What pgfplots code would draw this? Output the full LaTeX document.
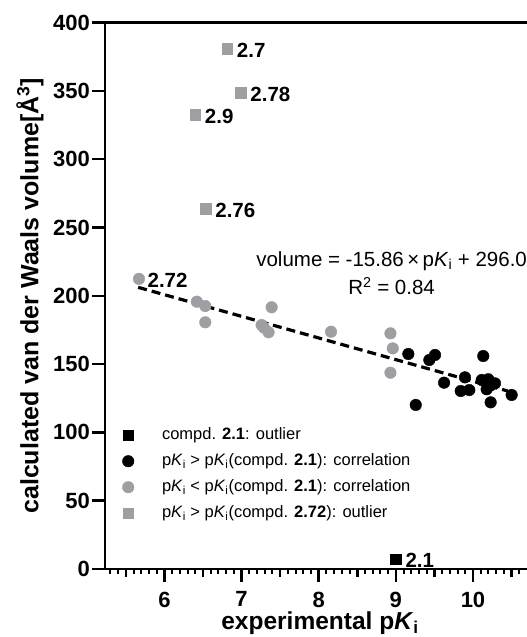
\documentclass[border=0pt]{standalone}
\usepackage{pgfplots}
\pgfplotsset{compat=1.18}
\usepackage{fontspec}
\setmainfont{Liberation Sans}
\definecolor{ptgray}{RGB}{158,158,163}
\newcommand{\pKi}{p\textit{K}\textsubscript{i}}

\begin{document}
\begin{tikzpicture}
\path[use as bounding box] (-105bp,-68bp) rectangle (422bp,569bp);
\begin{axis}[
  at={(0,0)}, anchor=south west,
  scale only axis, width=422bp, height=546.4bp,
  xmin=5.23, xmax=10.7, ymin=0, ymax=400,
  axis x line*=bottom, axis y line*=left,
  axis line style={line width=2.7bp, line cap=rect},
  xtick={6,...,10}, ytick={0,50,...,400},
  minor xtick={5.3,5.4,5.6,5.7,5.8,5.9,6.1,6.2,6.3,6.4,6.6,6.7,6.8,6.9,
    7.1,7.2,7.3,7.4,7.6,7.7,7.8,7.9,8.1,8.2,8.3,8.4,8.6,8.7,8.8,8.9,
    9.1,9.2,9.3,9.4,9.6,9.7,9.8,9.9,10.1,10.2,10.3,10.4,10.6},
  extra x ticks={5.5,6.5,7.5,8.5,9.5,10.5},
  extra x tick labels={},
  extra x tick style={major tick length=7.5bp},
  tick align=outside,
  major tick length=12.5bp,
  minor tick length=5bp,
  tick style={black, line width=2.5bp},
  minor tick style={line width=2bp},
  tick label style={font=\fontsize{22bp}{25bp}\selectfont\bfseries},
  /pgf/number format/assume math mode=true,
  yticklabel style={inner sep=0pt, xshift=-2.5bp},
  xticklabel style={inner sep=0pt, yshift=-10bp},
  xlabel={experimental \pKi},
  xlabel style={at={(axis description cs:0.5095,-0.1115)}, anchor=base,
    font=\fontsize{24.5bp}{29bp}\selectfont\bfseries},
  ylabel={calculated van der Waals volume[Å\textsuperscript{3}]},
  ylabel style={at={(axis description cs:-0.1576,0.5)}, anchor=base,
    font=\fontsize{25bp}{30bp}\selectfont\bfseries},
  legend style={at={(axis description cs:0.0408,0.2594)}, anchor=north west,
    draw=none, fill=none, inner sep=0pt, row sep=10.5bp,
    /tikz/every odd column/.append style={column sep=28bp},
    nodes={inner sep=0pt, text height=12bp, text depth=3.5bp,
      font=\fontsize{16.5bp}{19bp}\selectfont}},
  legend cell align=left,
  legend image code/.code={\draw[#1] plot coordinates {(0bp,0bp)};},
  clip=false,
]
\addplot[only marks, mark=square*, mark size=5.3bp, black] coordinates {(9.00,7.3)};
\addlegendentry{compd. \textbf{2.1}: outlier}

\addplot[only marks, mark=*, mark size=5.8bp, black] coordinates {
  (9.162,157.4) (9.258,120.1) (9.434,153.0) (9.508,156.7) (9.625,136.4)
  (9.841,130.3) (9.896,140.3) (9.952,131.0) (10.133,155.9) (10.113,138.4)
  (10.198,138.9) (10.177,131.6) (10.285,135.9) (10.229,122.0) (10.501,127.4)
  (10.23,134.5)
};
\addlegendentry{\pKi{} > \pKi(compd. \textbf{2.1}): correlation}

\addplot[only marks, mark=*, mark size=5.8bp, color=ptgray] coordinates {
  (5.67,212.4) (6.42,195.7) (6.53,192.5) (6.53,180.6) (7.39,191.6)
  (7.26,178.6) (7.29,176.7) (7.35,173.3) (8.16,173.7) (8.93,172.5)
  (8.96,161.5) (8.93,143.7)
};
\addlegendentry{\pKi{} < \pKi(compd. \textbf{2.1}): correlation}

\addplot[only marks, mark=square*, mark size=5.3bp, color=ptgray] coordinates {
  (6.815,380.9) (6.99,348.8) (6.40,332.5) (6.535,263.7)
};
\addlegendentry{\pKi{} > \pKi(compd. \textbf{2.72}): outlier}

% linear fit: volume = -15.86 pKi + 296.0
\addplot[forget plot, black, line width=3.2bp, dash pattern=on 9bp off 5bp]
  coordinates {(5.66,206.2) (10.45,130.3)};

\draw[line width=2.7bp, line cap=rect] (rel axis cs:0,1) -- (rel axis cs:1,1);

\tikzset{ptlab/.style={anchor=west, inner sep=0pt, xshift=9.5bp, yshift=-1.5bp,
  font=\fontsize{20.5bp}{23bp}\selectfont\bfseries}}
\node[ptlab] at (axis cs:6.815,380.9) {2.7};
\node[ptlab] at (axis cs:6.99,348.8) {2.78};
\node[ptlab] at (axis cs:6.40,332.5) {2.9};
\node[ptlab] at (axis cs:6.535,263.7) {2.76};
\node[ptlab, xshift=-1bp] at (axis cs:5.67,212.4) {2.72};
\node[ptlab, yshift=0.5bp] at (axis cs:9.00,7.3) {2.1};

\node[anchor=base, inner sep=0pt, font=\fontsize{20.5bp}{24bp}\selectfont]
  at (axis cs:8.945,221.8) {volume = -15.86\,×\,\pKi{} + 296.0};
\node[anchor=base, inner sep=0pt, font=\fontsize{20.5bp}{24bp}\selectfont]
  at (axis cs:8.945,200.6) {R\textsuperscript{2} = 0.84};
\end{axis}
\end{tikzpicture}
\end{document}
